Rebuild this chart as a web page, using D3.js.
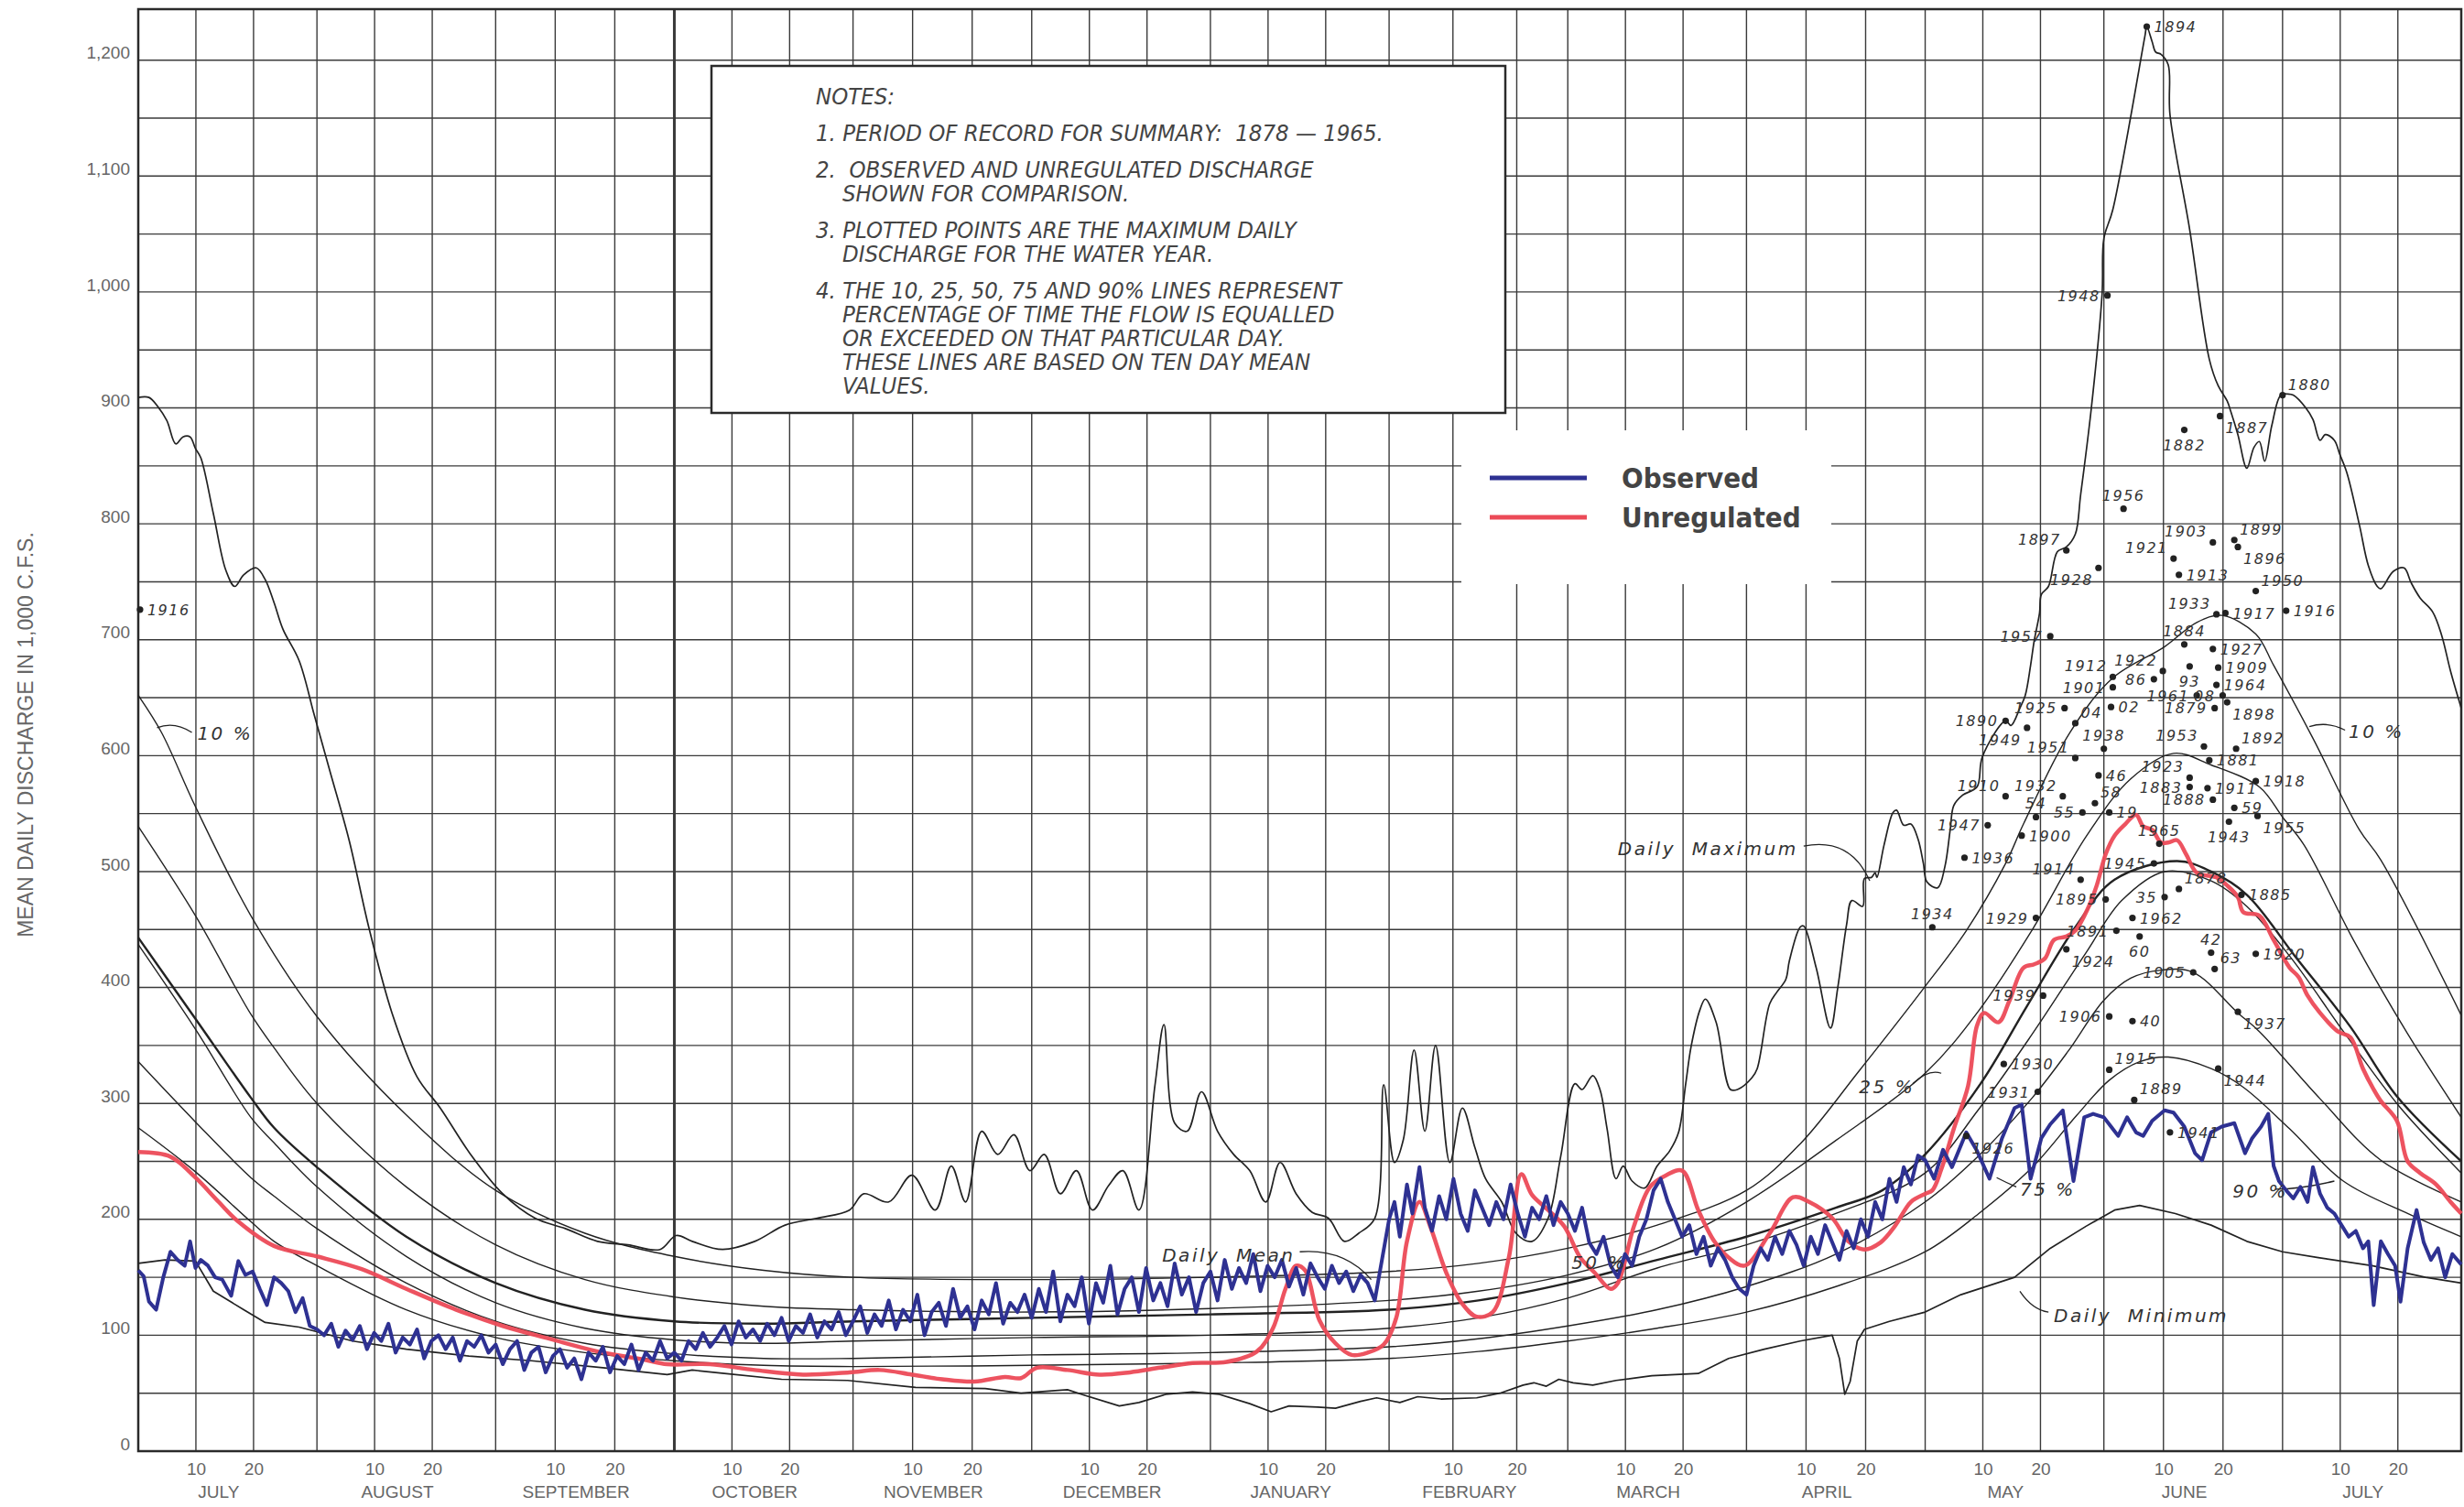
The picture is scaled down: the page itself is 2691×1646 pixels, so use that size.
<!DOCTYPE html>
<html>
<head>
<meta charset="utf-8">
<script src="https://cdn.jsdelivr.net/npm/d3@7"></script>
<style>
  html, body { margin: 0; padding: 0; background: #fff; }
  svg { display: block; }
  text.pre { white-space: pre; }
</style>
</head>
<body>
<svg id="chart" width="2691" height="1646"></svg>
<script>
// ---------------------------------------------------------------
// Mean daily discharge, water-year summary (July through July).
// Time axis is measured in months after 1 July (0 … 13); each
// month occupies an equal width and is split at the 10th and 20th.
// Discharge is in 1,000 c.f.s.
// ---------------------------------------------------------------

const monthNames = ["JULY", "AUGUST", "SEPTEMBER", "OCTOBER", "NOVEMBER", "DECEMBER",
  "JANUARY", "FEBRUARY", "MARCH", "APRIL", "MAY", "JUNE", "JULY"];
const monthDays = [31, 31, 30, 31, 30, 31, 31, 28, 31, 30, 31, 30, 31];
const dayTicks = [10, 20];
const yTickValues = [0, 100, 200, 300, 400, 500, 600, 700, 800, 900, 1000, 1100, 1200];

// Daily maximum of record  [months after 1 July, discharge]
const dailyMaximum = [
  [0, 909], [0.06, 909], [0.11, 901], [0.16, 889], [0.21, 869], [0.25, 875], [0.29, 875],
  [0.32, 865], [0.35, 857], [0.42, 809], [0.49, 760], [0.54, 746], [0.59, 756], [0.66, 762],
  [0.71, 752], [0.76, 732], [0.81, 709], [0.90, 682], [0.985, 635], [1.07, 588], [1.18, 527],
  [1.29, 452], [1.42, 378], [1.56, 323], [1.69, 296], [1.86, 256], [2.04, 222], [2.22, 201],
  [2.39, 192], [2.57, 181], [2.74, 178], [2.92, 174], [3.01, 186], [3.10, 181], [3.27, 174],
  [3.45, 181], [3.62, 195], [3.80, 201], [3.98, 208], [4.06, 222], [4.20, 215], [4.33, 238],
  [4.46, 208], [4.55, 246], [4.63, 215], [4.72, 276], [4.81, 256], [4.90, 273], [4.99, 242],
  [5.07, 256], [5.16, 222], [5.25, 242], [5.34, 208], [5.43, 229], [5.51, 242], [5.60, 208],
  [5.69, 316], [5.74, 368], [5.80, 283], [5.87, 276], [5.95, 310], [6.04, 276], [6.13, 256],
  [6.22, 242], [6.31, 215], [6.39, 249], [6.48, 222], [6.57, 206], [6.66, 201], [6.75, 181],
  [6.83, 188], [6.92, 201], [6.97, 316], [7.03, 249], [7.08, 269], [7.14, 346], [7.20, 276],
  [7.26, 350], [7.34, 249], [7.41, 296], [7.48, 262], [7.54, 235], [7.63, 215], [7.71, 188],
  [7.80, 181], [7.89, 201], [7.96, 254], [8.04, 317], [8.08, 312], [8.14, 324], [8.18, 312],
  [8.22, 278], [8.27, 235], [8.31, 246], [8.36, 233], [8.43, 227], [8.50, 246], [8.57, 259],
  [8.62, 275], [8.66, 317], [8.69, 349], [8.74, 381], [8.77, 390], [8.83, 370], [8.91, 312],
  [8.95, 312], [9.03, 322], [9.06, 330], [9.13, 386], [9.17, 396], [9.22, 407], [9.24, 423],
  [9.30, 452], [9.32, 453], [9.39, 417], [9.47, 365], [9.51, 399], [9.56, 454], [9.59, 475],
  [9.65, 470], [9.66, 494], [9.70, 495], [9.72, 499], [9.73, 495], [9.77, 523], [9.82, 551],
  [9.84, 553], [9.88, 540], [9.92, 541], [9.96, 528], [9.99, 507], [10.01, 491], [10.07, 486],
  [10.11, 504], [10.14, 536], [10.16, 557], [10.21, 566], [10.29, 573], [10.32, 599],
  [10.45, 630], [10.48, 626], [10.53, 641], [10.56, 652], [10.59, 678], [10.61, 699],
  [10.64, 723], [10.65, 739], [10.69, 746], [10.74, 776], [10.79, 780], [10.84, 791],
  [10.87, 825], [10.93, 900], [10.99, 998], [11.00, 1046], [11.05, 1071], [11.23, 1221],
  [11.24, 1229], [11.27, 1216], [11.29, 1207], [11.32, 1205], [11.36, 1196], [11.37, 1153],
  [11.48, 1054], [11.59, 942], [11.64, 919], [11.69, 906], [11.71, 897], [11.75, 877],
  [11.80, 848], [11.84, 866], [11.87, 871], [11.90, 854], [11.94, 885], [11.99, 911],
  [12.03, 912], [12.06, 911], [12.13, 900], [12.17, 890], [12.21, 872], [12.24, 877],
  [12.29, 872], [12.32, 860], [12.36, 844], [12.43, 799], [12.48, 764], [12.53, 746],
  [12.55, 744], [12.62, 759], [12.68, 762], [12.72, 749], [12.77, 736], [12.84, 724],
  [12.89, 704], [12.94, 673], [13.0, 641]
];

// Daily minimum of record
const dailyMinimum = [
  [0, 162], [0.15, 165], [0.32, 164], [0.42, 138], [0.59, 122], [0.71, 111], [0.9, 107],
  [1.2, 95], [1.5, 88], [1.85, 82], [2.2, 78], [2.6, 72], [2.96, 66], [3.1, 70], [3.28, 67],
  [3.6, 62], [3.97, 61], [4.35, 55], [4.74, 54], [4.94, 50], [5.2, 53], [5.3, 48], [5.49, 39],
  [5.6, 42], [5.75, 49], [5.9, 51], [6.05, 49], [6.22, 41], [6.34, 34], [6.44, 39], [6.6, 38],
  [6.7, 37], [6.84, 43], [6.93, 46], [7.06, 42], [7.16, 47], [7.29, 45], [7.49, 46], [7.62, 50],
  [7.75, 57], [7.81, 59], [7.88, 56], [7.95, 62], [8.03, 59], [8.14, 57], [8.27, 61], [8.47, 65],
  [8.73, 67], [8.9, 80], [9.1, 88], [9.3, 95], [9.48, 100], [9.52, 80], [9.55, 49], [9.58, 60],
  [9.62, 95], [9.66, 105], [9.8, 112], [10.0, 120], [10.2, 135], [10.5, 150], [10.7, 175],
  [10.9, 194], [11.06, 208], [11.2, 212], [11.4, 205], [11.6, 195], [11.8, 181], [12.0, 172],
  [12.2, 167], [12.5, 160], [12.8, 150], [13.0, 145]
];

// Daily mean of record
const dailyMean = [
  [0, 443], [0.32, 373], [0.63, 305], [0.76, 279], [1, 245], [1.5, 185], [2, 145], [2.5, 122],
  [3, 112], [3.5, 110], [4, 112], [5, 115], [6, 118], [7, 122], [7.5, 130], [8, 145], [8.5, 165],
  [9, 185], [9.5, 210], [9.76, 225], [10, 256], [10.31, 317], [10.57, 384], [10.84, 452],
  [11.06, 493], [11.41, 509], [11.6, 500], [11.8, 480], [12.07, 427], [12.38, 366],
  [12.64, 306], [13, 250]
];

// Duration lines: flow equalled or exceeded the given percent of the time
const exceed10 = [
  [0, 652], [0.13, 620], [0.32, 556], [0.63, 462], [1, 375], [1.5, 290], [2, 225], [2.5, 188],
  [3, 168], [3.5, 156], [4, 150], [5, 148], [6, 150], [7, 155], [7.5, 162], [8, 175], [8.5, 195],
  [9, 225], [9.3, 265], [9.63, 328], [9.99, 399], [10.23, 449], [10.45, 507], [10.55, 541],
  [10.81, 620], [11.05, 667], [11.34, 694], [11.52, 715], [11.66, 721], [11.85, 705],
  [11.95, 678], [12.17, 615], [12.43, 536], [12.55, 510], [13, 376]
];
const exceed25 = [
  [0, 539], [0.32, 462], [0.63, 377], [0.76, 348], [1, 300], [1.5, 228], [2, 178], [2.5, 148],
  [3, 133], [3.5, 125], [4, 122], [5, 120], [6, 123], [7, 130], [7.5, 138], [8, 152], [8.5, 175],
  [9, 215], [9.5, 268], [10, 326], [10.3, 380], [10.6, 450], [10.9, 530], [11.15, 580],
  [11.39, 602], [11.6, 592], [11.87, 573], [12, 547], [12.12, 523], [12.4, 440], [12.7, 360],
  [13, 288]
];
const exceed50 = [
  [0, 437], [0.32, 364], [0.63, 288], [0.76, 266], [1, 228], [1.5, 168], [2, 128], [2.5, 106],
  [3, 96], [3.5, 93], [4, 95], [5, 98], [6, 100], [7, 106], [7.5, 115], [8, 132], [8.5, 158],
  [9, 178], [9.5, 205], [10, 240], [10.3, 295], [10.6, 360], [10.9, 430], [11.1, 475],
  [11.34, 500], [11.6, 492], [11.8, 470], [12.05, 425], [12.35, 360], [12.65, 298], [13, 240]
];
const exceed75 = [
  [0, 336], [0.32, 284], [0.63, 236], [0.76, 220], [1, 192], [1.5, 145], [2, 112], [2.5, 93],
  [3, 84], [3.5, 80], [4, 80], [5, 83], [6, 85], [7, 90], [7.5, 97], [8, 108], [8.5, 122],
  [9, 142], [9.5, 170], [10, 215], [10.3, 255], [10.6, 305], [10.8, 345], [11.0, 389],
  [11.15, 408], [11.32, 415], [11.5, 413], [11.75, 378], [11.87, 362], [12.21, 304],
  [12.55, 251], [13, 215]
];
const exceed90 = [
  [0, 279], [0.32, 241], [0.63, 198], [0.76, 181], [1, 160], [1.5, 122], [2, 98], [2.5, 85],
  [3, 78], [3.5, 74], [4, 73], [5, 74], [6, 76], [7, 80], [7.5, 86], [8, 95], [8.5, 106],
  [9, 120], [9.5, 142], [10, 172], [10.3, 205], [10.6, 245], [10.85, 290], [11.03, 320],
  [11.2, 336], [11.36, 340], [11.6, 330], [11.78, 314], [12.04, 278], [12.34, 233],
  [12.7, 205], [13, 185]
];

// Observed discharge
const observed = [
  [0, 156], [0.03, 151], [0.06, 129], [0.1, 122], [0.14, 150], [0.18, 172], [0.22, 165],
  [0.26, 160], [0.29, 181], [0.32, 158], [0.35, 165], [0.39, 160], [0.43, 150], [0.47, 148],
  [0.52, 134], [0.56, 164], [0.6, 152], [0.64, 155], [0.68, 140], [0.72, 126], [0.76, 150],
  [0.8, 145], [0.84, 138], [0.88, 120], [0.92, 132], [0.96, 108],
  [1.0, 105], [1.04, 100], [1.08, 110], [1.12, 90], [1.16, 104], [1.2, 96], [1.24, 108],
  [1.28, 88], [1.32, 102], [1.36, 95], [1.4, 110], [1.44, 85], [1.48, 98], [1.52, 92],
  [1.56, 105], [1.6, 80], [1.64, 95], [1.68, 100], [1.72, 88], [1.76, 98], [1.8, 78],
  [1.84, 95], [1.88, 90], [1.92, 100], [1.96, 85],
  [2.0, 92], [2.04, 75], [2.08, 88], [2.12, 95], [2.16, 70], [2.2, 85], [2.24, 90], [2.28, 68],
  [2.32, 82], [2.36, 88], [2.4, 72], [2.44, 80], [2.48, 62], [2.52, 85], [2.56, 78], [2.6, 90],
  [2.64, 68], [2.68, 82], [2.72, 75], [2.76, 92], [2.8, 70], [2.84, 85], [2.88, 78], [2.92, 95],
  [2.96, 80],
  [3.0, 85], [3.04, 78], [3.08, 95], [3.12, 88], [3.16, 102], [3.2, 90], [3.24, 98], [3.28, 108],
  [3.32, 92], [3.36, 112], [3.4, 98], [3.44, 105], [3.48, 95], [3.52, 110], [3.56, 100],
  [3.6, 115], [3.64, 95], [3.68, 108], [3.72, 102], [3.76, 118], [3.8, 98], [3.84, 112],
  [3.88, 105], [3.92, 120], [3.96, 100],
  [4.0, 112], [4.04, 125], [4.08, 102], [4.12, 118], [4.16, 108], [4.2, 130], [4.24, 105],
  [4.28, 122], [4.32, 112], [4.36, 135], [4.4, 100], [4.44, 120], [4.48, 128], [4.52, 108],
  [4.56, 140], [4.6, 115], [4.64, 125], [4.68, 105], [4.72, 130], [4.76, 118], [4.8, 145],
  [4.84, 110], [4.88, 128], [4.92, 120], [4.96, 135],
  [5.0, 115], [5.04, 140], [5.08, 120], [5.12, 155], [5.16, 112], [5.2, 135], [5.24, 125],
  [5.28, 150], [5.32, 110], [5.36, 145], [5.4, 128], [5.44, 160], [5.48, 118], [5.52, 140],
  [5.56, 150], [5.6, 120], [5.64, 158], [5.68, 130], [5.72, 145], [5.76, 125], [5.8, 162],
  [5.84, 135], [5.88, 150], [5.92, 120], [5.96, 145],
  [6.0, 155], [6.04, 130], [6.08, 165], [6.12, 140], [6.16, 158], [6.2, 145], [6.24, 170],
  [6.28, 138], [6.32, 160], [6.36, 150], [6.4, 165], [6.44, 142], [6.48, 158], [6.52, 135],
  [6.56, 162], [6.6, 150], [6.64, 140], [6.68, 160], [6.72, 145], [6.76, 155], [6.8, 138],
  [6.84, 152], [6.88, 145], [6.92, 130], [6.96, 165],
  [7.0, 200], [7.03, 215], [7.06, 185], [7.1, 230], [7.13, 205], [7.17, 245], [7.2, 210],
  [7.24, 190], [7.28, 220], [7.32, 200], [7.36, 235], [7.4, 205], [7.44, 190], [7.48, 225],
  [7.52, 210], [7.56, 195], [7.6, 215], [7.64, 200], [7.68, 230], [7.72, 205], [7.76, 185],
  [7.8, 210], [7.84, 200], [7.88, 220], [7.92, 195], [7.96, 215],
  [8.0, 205], [8.04, 190], [8.08, 210], [8.12, 180], [8.16, 170], [8.2, 185], [8.24, 160],
  [8.28, 150], [8.32, 170], [8.36, 160], [8.4, 185], [8.44, 200], [8.48, 225], [8.52, 235],
  [8.56, 215], [8.6, 200], [8.64, 185], [8.68, 195], [8.72, 170], [8.76, 185], [8.8, 160],
  [8.84, 175], [8.88, 165], [8.92, 150], [8.96, 140],
  [9.0, 135], [9.04, 160], [9.08, 175], [9.12, 165], [9.16, 185], [9.2, 170], [9.24, 190],
  [9.28, 178], [9.32, 160], [9.36, 185], [9.4, 170], [9.44, 195], [9.48, 180], [9.52, 165],
  [9.56, 190], [9.6, 175], [9.64, 200], [9.68, 185], [9.72, 215], [9.76, 200], [9.8, 235],
  [9.84, 215], [9.88, 245], [9.92, 230], [9.96, 255],
  [10.0, 251], [10.05, 235], [10.1, 260], [10.15, 245], [10.23, 275], [10.29, 259],
  [10.36, 235], [10.43, 270], [10.5, 296], [10.54, 299], [10.59, 235], [10.65, 270],
  [10.7, 282], [10.77, 294], [10.83, 233], [10.89, 288], [10.94, 291], [11.0, 288],
  [11.04, 280], [11.08, 272], [11.13, 288], [11.18, 275], [11.22, 272], [11.27, 285],
  [11.34, 294], [11.39, 292], [11.45, 280], [11.51, 257], [11.55, 251], [11.6, 275],
  [11.66, 280], [11.73, 283], [11.79, 257], [11.83, 270], [11.88, 280], [11.92, 291],
  [11.95, 246], [11.98, 233],
  [12.02, 225], [12.06, 218], [12.1, 228], [12.14, 215], [12.17, 245], [12.21, 222],
  [12.25, 210], [12.29, 205], [12.33, 195], [12.37, 185], [12.41, 190], [12.45, 175],
  [12.48, 181], [12.51, 126], [12.55, 181], [12.59, 170], [12.63, 160], [12.66, 129],
  [12.7, 175], [12.75, 208], [12.79, 180], [12.83, 165], [12.87, 175], [12.91, 150],
  [12.95, 170], [13.0, 161]
];

// Unregulated discharge
const unregulated = [
  [0, 258], [0.18, 254], [0.32, 236], [0.45, 215], [0.56, 198], [0.76, 177], [1.0, 168],
  [1.25, 157], [1.5, 140], [1.78, 122], [2.04, 108], [2.3, 97], [2.57, 86], [2.83, 79],
  [2.96, 75], [3.2, 75], [3.45, 70], [3.72, 66], [3.98, 68], [4.15, 70], [4.33, 66], [4.5, 62],
  [4.68, 60], [4.85, 64], [4.94, 63], [5.03, 72], [5.2, 70], [5.38, 66], [5.55, 68], [5.72, 72],
  [5.9, 76], [6.09, 77], [6.26, 86], [6.35, 106], [6.42, 140], [6.48, 160], [6.53, 156],
  [6.61, 113], [6.7, 93], [6.79, 83], [6.88, 85], [6.97, 92], [7.04, 115], [7.1, 181],
  [7.17, 215], [7.23, 194], [7.32, 154], [7.41, 127], [7.49, 116], [7.58, 120], [7.67, 167],
  [7.74, 239], [7.8, 221], [7.89, 208], [7.98, 194], [8.07, 167], [8.15, 154], [8.24, 140],
  [8.28, 145], [8.37, 194], [8.46, 228], [8.55, 238], [8.64, 242], [8.73, 208], [8.82, 181],
  [8.9, 167], [8.99, 160], [9.13, 188], [9.26, 219], [9.35, 215], [9.48, 201], [9.57, 181],
  [9.66, 174], [9.75, 180], [9.83, 194], [9.92, 215], [10.0, 222], [10.04, 225], [10.09, 243],
  [10.16, 278], [10.24, 315], [10.29, 367], [10.33, 378], [10.41, 370], [10.47, 388],
  [10.55, 417], [10.61, 420], [10.67, 425], [10.72, 441], [10.79, 444], [10.84, 449],
  [10.91, 468], [10.96, 488], [11.01, 515], [11.06, 531], [11.12, 541], [11.18, 549],
  [11.22, 539], [11.27, 536], [11.32, 525], [11.36, 525], [11.41, 527], [11.46, 515],
  [11.52, 499], [11.63, 495], [11.69, 488], [11.75, 478], [11.78, 465], [11.87, 462],
  [11.95, 441], [12.04, 417], [12.09, 409], [12.14, 393], [12.21, 378], [12.31, 362],
  [12.38, 357], [12.45, 330], [12.51, 312], [12.55, 302], [12.64, 285], [12.7, 250],
  [12.77, 240], [12.86, 230], [12.94, 215], [13, 205]
];

// Maximum daily discharge for each water year: label, month position, discharge
const peakYears = ["1894", "1948", "1887", "1882", "1880", "1956", "1897", "1928", "1903", "1899",
  "1896", "1921", "1913", "1950", "1916", "1933", "1917", "1884", "1957", "1927", "1912", "1922",
  "93", "1909", "1964", "1901", "86", "1961", "08", "1898", "1925", "02", "1879", "1890", "1949",
  "04", "1951", "1938", "1953", "1892", "1923", "1881", "46", "1883", "1911", "1918", "1932",
  "1910", "58", "54", "1888", "59", "55", "19", "1947", "1900", "1965", "1943", "1955", "1936",
  "1914", "1945", "1878", "1885", "1895", "35", "1929", "1962", "1891", "60", "42", "1920",
  "1924", "1905", "63", "1939", "1906", "40", "1937", "1930", "1915", "1944", "1931", "1889",
  "1941", "1926", "1934", "1916"];
const peakTime = [11.24, 11.02, 11.65, 11.45, 12.0, 11.11, 10.79, 10.97, 11.61, 11.73,
  11.75, 11.39, 11.42, 11.85, 12.02, 11.63, 11.68, 11.45, 10.70, 11.61, 11.05, 11.33,
  11.48, 11.64, 11.63, 11.05, 11.28, 11.52, 11.665, 11.69, 10.78, 11.04, 11.62, 10.45, 10.57,
  10.84, 10.84, 11.0, 11.56, 11.74, 11.48, 11.59, 10.97, 11.48, 11.58, 11.85, 10.77,
  10.45, 10.95, 10.62, 11.61, 11.73, 10.88, 11.03, 10.35, 10.54, 11.31, 11.70, 11.86, 10.22,
  10.87, 11.28, 11.42, 11.77, 11.01, 11.34, 10.62, 11.16, 11.07, 11.20, 11.60, 11.85,
  10.79, 11.50, 11.62, 10.66, 11.03, 11.16, 11.75, 10.44, 11.03, 11.64, 10.63, 11.17,
  11.37, 10.23, 10.04, 0.01];
const peakFlow = [1229, 997, 893, 881, 911, 813, 777, 762, 784, 786,
  780, 770, 756, 742, 725, 722, 723, 696, 703, 692, 668, 673,
  677, 676, 661, 659, 666, 652, 652, 646, 641, 642, 641, 630, 624,
  628, 598, 606, 608, 606, 581, 596, 583, 573, 572, 578, 565,
  565, 559, 547, 562, 555, 551, 551, 540, 531, 524, 543, 548, 512,
  493, 507, 485, 480, 476, 478, 460, 460, 449, 444, 430, 429,
  433, 413, 416, 393, 375, 371, 379, 334, 329, 330, 310, 303,
  275, 272, 452, 726];
// Which side of its dot each year label sits on
const peakLabelSide = ["r", "l", "br", "b", "ar", "a", "al", "bl", "al", "ar",
  "br", "al", "r", "ar", "r", "al", "r", "a", "l", "r", "al", "al",
  "b", "r", "r", "l", "l", "l", "l", "br", "l", "r", "l", "l", "bl",
  "ar", "al", "a", "al", "ar", "al", "r", "r", "l", "r", "r", "al",
  "al", "ar", "a", "l", "r", "l", "r", "l", "r", "a", "b", "br", "r",
  "al", "l", "ar", "r", "l", "l", "l", "r", "l", "b", "a", "r",
  "br", "l", "ar", "l", "l", "r", "br", "r", "ar", "br", "l", "ar",
  "r", "br", "a", "r"];

// Curve annotations: text, month position, discharge
const curveLabels = [
  { text: "Daily  Maximum", t: 8.28, v: 520 },
  { text: "Daily  Mean", t: 5.73, v: 169 },
  { text: "Daily  Minimum", t: 10.72, v: 117 },
  { text: "10 %", t: 0.33, v: 619 },
  { text: "10 %", t: 12.37, v: 621 },
  { text: "25 %", t: 9.63, v: 314 },
  { text: "50 %", t: 8.02, v: 163 },
  { text: "75 %", t: 10.53, v: 226 },
  { text: "90 %", t: 11.72, v: 224 }
];
// Leader lines from annotations to their curves: [from, control, to]
const leaders = [
  [[9.32, 522], [9.58, 530], [9.69, 492]],
  [[6.5, 172], [6.75, 175], [6.9, 148]],
  [[10.69, 120], [10.6, 122], [10.53, 138]],
  [[0.30, 620], [0.2, 630], [0.105, 624]],
  [[12.35, 622], [12.25, 630], [12.15, 625]],
  [[9.93, 317], [10.02, 330], [10.09, 326]],
  [[10.51, 228], [10.45, 232], [10.40, 236]],
  [[11.96, 226], [12.1, 226], [12.29, 233]]
];

const notesLines = [
  { text: "NOTES:", indent: false, gap: 0 },
  { text: "1. PERIOD OF RECORD FOR SUMMARY:  1878 \u2014 1965.", indent: false, gap: 1 },
  { text: "2.  OBSERVED AND UNREGULATED DISCHARGE", indent: false, gap: 1 },
  { text: "SHOWN FOR COMPARISON.", indent: true, gap: 0 },
  { text: "3. PLOTTED POINTS ARE THE MAXIMUM DAILY", indent: false, gap: 1 },
  { text: "DISCHARGE FOR THE WATER YEAR.", indent: true, gap: 0 },
  { text: "4. THE 10, 25, 50, 75 AND 90% LINES REPRESENT", indent: false, gap: 1 },
  { text: "PERCENTAGE OF TIME THE FLOW IS EQUALLED", indent: true, gap: 0 },
  { text: "OR EXCEEDED ON THAT PARTICULAR DAY.", indent: true, gap: 0 },
  { text: "THESE LINES ARE BASED ON TEN DAY MEAN", indent: true, gap: 0 },
  { text: "VALUES.", indent: true, gap: 0 }
];

const legendItems = [
  { label: "Observed", color: "#2e3192" },
  { label: "Unregulated", color: "#ec4a57" }
];

// ---------------------------------------------------------------
const svg = d3.select("#chart");
const W = 2691, H = 1646;
const plot = { left: 151, right: 2688, top: 10, bottom: 1585 };

const x = d3.scaleLinear().domain([0, 13]).range([plot.left, plot.right]);
const y = d3.scaleLinear().domain([0, 1244]).range([plot.bottom, plot.top]);

const gridColor = "#3a3a3a";
const inkColor = "#222";
const labelFont = "'Liberation Sans', Arial, sans-serif";
const handFont = "'DejaVu Sans', 'Liberation Sans', sans-serif";
const narrowFont = "'Liberation Sans Narrow', 'DejaVu Sans Condensed', 'Liberation Sans', sans-serif";

svg.append("rect").attr("width", W).attr("height", H).attr("fill", "#fff");

// Grid: vertical lines at the start, 10th and 20th of each month
const vLines = [];
monthDays.forEach((len, m) => {
  vLines.push({ t: m, major: m === 3 });
  dayTicks.forEach(d => vLines.push({ t: m + d / len, major: false }));
});
const grid = svg.append("g").attr("class", "grid");
grid.selectAll("line.v").data(vLines).join("line")
  .attr("class", "v")
  .attr("x1", d => x(d.t)).attr("x2", d => x(d.t))
  .attr("y1", y(y.domain()[1])).attr("y2", y(0))
  .attr("stroke", gridColor)
  .attr("stroke-width", d => d.major ? 3 : 1.4);

// Horizontal lines every 50
grid.selectAll("line.h").data(d3.range(50, 1201, 50)).join("line")
  .attr("class", "h")
  .attr("x1", x(0)).attr("x2", x(13))
  .attr("y1", d => y(d)).attr("y2", d => y(d))
  .attr("stroke", gridColor).attr("stroke-width", 1.4);

// Frame
svg.append("rect")
  .attr("x", x(0)).attr("y", y(y.domain()[1]))
  .attr("width", x(13) - x(0)).attr("height", y(0) - y(y.domain()[1]))
  .attr("fill", "none").attr("stroke", "#2a2a2a").attr("stroke-width", 2.5);

// Y axis labels
const yAxis = d3.axisLeft(y).tickValues(yTickValues).tickSize(0).tickPadding(9)
  .tickFormat(d3.format(","));
const yG = svg.append("g").attr("transform", `translate(${x(0)},0)`).call(yAxis);
yG.select(".domain").remove();
yG.selectAll("text")
  .attr("font-family", labelFont).attr("font-size", 19).attr("fill", "#666")
  .attr("dy", "-0.1em");

// X axis: day numbers and month names
const xDayTicks = [];
monthDays.forEach((len, m) => dayTicks.forEach(d => xDayTicks.push({ t: m + d / len, d })));
const xAxis = d3.axisBottom(x).tickValues(xDayTicks.map(d => d.t)).tickSize(0).tickPadding(13)
  .tickFormat((t, i) => xDayTicks[i].d);
const xG = svg.append("g").attr("transform", `translate(0,${y(0)})`).call(xAxis);
xG.select(".domain").remove();
xG.selectAll("text")
  .attr("font-family", labelFont).attr("font-size", 19).attr("fill", "#666");

svg.append("g").selectAll("text").data(monthNames).join("text")
  .attr("x", (d, i) => x(i + 0.45))
  .attr("y", y(0) + 51)
  .attr("text-anchor", "middle")
  .attr("font-family", labelFont).attr("font-size", 19).attr("fill", "#666")
  .text(d => d);

// Y axis title
svg.append("text")
  .attr("transform", `translate(36,${(y(0) + y(1244)) / 2 + 5}) rotate(-90)`)
  .attr("text-anchor", "middle")
  .attr("font-family", labelFont).attr("font-size", 23).attr("fill", "#666")
  .text("MEAN DAILY DISCHARGE IN 1,000 C.F.S.");

// Notes box
const notes = svg.append("g");
notes.append("rect")
  .attr("x", 777).attr("y", 72).attr("width", 867).attr("height", 379)
  .attr("fill", "#fff").attr("stroke", "#2a2a2a").attr("stroke-width", 2.5);
let ny = 114;
notesLines.forEach((ln, i) => {
  if (i > 0) ny += ln.gap ? 40 : 26;
  notes.append("text").attr("class", "pre")
    .attr("x", ln.indent ? 920 : 891).attr("y", ny)
    .attr("font-family", narrowFont).attr("font-style", "italic")
    .attr("font-size", 25.5).attr("fill", "#444")
    .text(ln.text);
});

// Legend (on a white panel)
const legend = svg.append("g");
legend.append("rect").attr("x", 1596).attr("y", 470).attr("width", 404).attr("height", 168)
  .attr("fill", "#fff");
legendItems.forEach((it, i) => {
  const ly = 522 + i * 43;
  legend.append("line").attr("x1", 1627).attr("x2", 1733).attr("y1", ly).attr("y2", ly)
    .attr("stroke", it.color).attr("stroke-width", 5);
  legend.append("text").attr("x", 1771).attr("y", ly + 11)
    .attr("font-family", narrowFont).attr("font-weight", "bold")
    .attr("font-size", 31).attr("fill", "#444").text(it.label);
});

// Curves
const lineLinear = d3.line().x(d => x(d[0])).y(d => y(d[1]));
const lineSmooth = d3.line().x(d => x(d[0])).y(d => y(d[1])).curve(d3.curveCatmullRom.alpha(0.5));
const curves = svg.append("g").attr("fill", "none").attr("stroke-linejoin", "round");

[exceed10, exceed25, exceed50, exceed75, exceed90].forEach(s => {
  curves.append("path").attr("d", lineSmooth(s)).attr("stroke", inkColor).attr("stroke-width", 1.4);
});
curves.append("path").attr("d", lineSmooth(dailyMean)).attr("stroke", inkColor).attr("stroke-width", 2.4);
curves.append("path").attr("d", lineSmooth(dailyMaximum)).attr("stroke", inkColor).attr("stroke-width", 1.7);
curves.append("path").attr("d", lineLinear(dailyMinimum)).attr("stroke", inkColor).attr("stroke-width", 1.7);

// Annotation leaders
const leaderPath = p => `M${x(p[0][0])},${y(p[0][1])} Q${x(p[1][0])},${y(p[1][1])} ${x(p[2][0])},${y(p[2][1])}`;
curves.selectAll("path.leader").data(leaders).join("path")
  .attr("class", "leader").attr("d", leaderPath)
  .attr("stroke", inkColor).attr("stroke-width", 1.3);

// Annual peaks
const peaks = peakYears.map((yr, i) => ({ yr, t: peakTime[i], v: peakFlow[i], side: peakLabelSide[i] }));
const pg = svg.append("g");
pg.selectAll("circle").data(peaks).join("circle")
  .attr("cx", d => x(d.t)).attr("cy", d => y(d.v)).attr("r", 3.6).attr("fill", inkColor);
const off = {
  r: [8, 6, "start"], l: [-8, 6, "end"], a: [0, -9, "middle"], b: [0, 22, "middle"],
  ar: [6, -6, "start"], al: [-6, -6, "end"], br: [6, 19, "start"], bl: [-6, 19, "end"]
};
pg.selectAll("text").data(peaks).join("text")
  .attr("x", d => x(d.t) + off[d.side][0])
  .attr("y", d => y(d.v) + off[d.side][1])
  .attr("text-anchor", d => off[d.side][2])
  .attr("font-family", handFont).attr("font-style", "italic")
  .attr("font-size", 16).attr("letter-spacing", 1.5).attr("fill", "#333")
  .text(d => d.yr);

// Observed and unregulated traces on top
curves.append("path").attr("d", lineSmooth(unregulated))
  .attr("stroke", legendItems[1].color).attr("stroke-width", 4.5).attr("stroke-opacity", 0.95);
curves.append("path").attr("d", lineLinear(observed))
  .attr("stroke", legendItems[0].color).attr("stroke-width", 4);

// Curve annotations
svg.append("g").selectAll("text").data(curveLabels).join("text").attr("class", "pre")
  .attr("x", d => x(d.t)).attr("y", d => y(d.v) + 7)
  .attr("font-family", handFont).attr("font-style", "italic")
  .attr("font-size", 20).attr("letter-spacing", 2.5).attr("fill", "#333")
  .text(d => d.text);
</script>
</body>
</html>
